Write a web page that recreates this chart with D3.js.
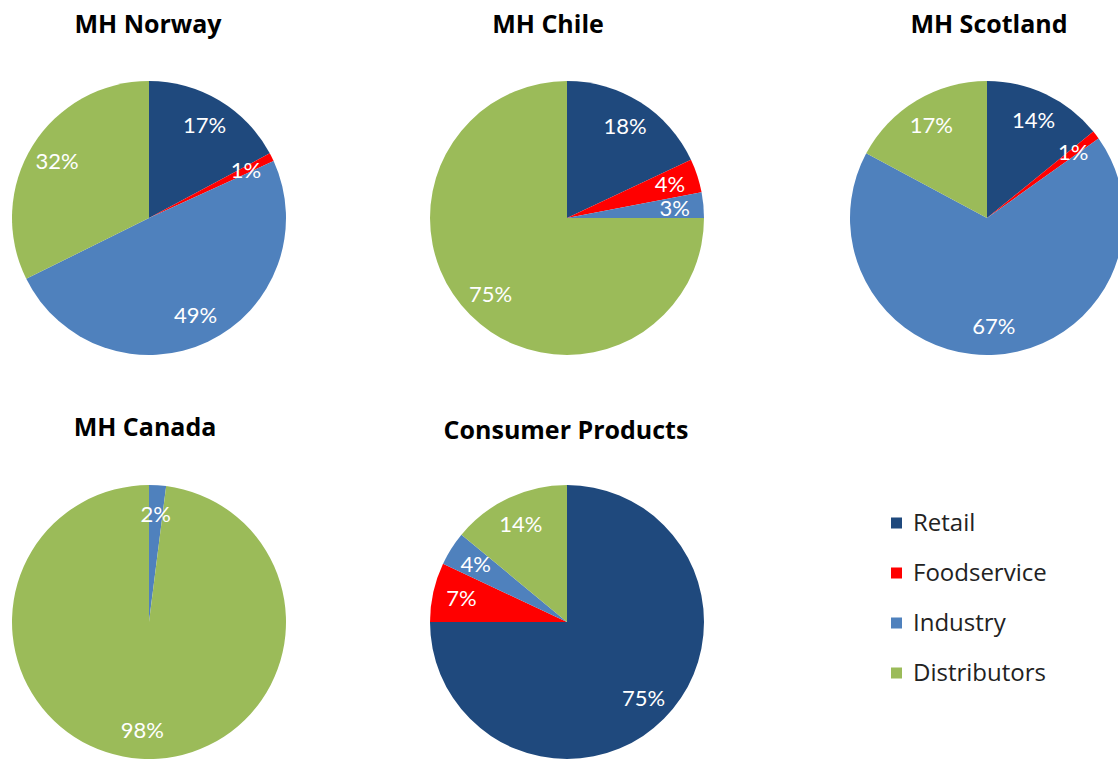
<!DOCTYPE html>
<html>
<head>
<meta charset="utf-8">
<script src="https://cdn.jsdelivr.net/npm/d3@7"></script>
<style>
    body { margin: 0; background: #fff; }
    svg { display: block; font-family: Lato, "Open Sans", sans-serif; }
</style>
</head>
<body>
<script>
// Sales channel split per business unit (percent)
var categories = ["Retail", "Foodservice", "Industry", "Distributors"];
var units = ["MH Norway", "MH Chile", "MH Scotland",
             "MH Canada", "Consumer Products"];
var norway   = [17, 1, 49, 32];
var chile    = [18, 4, 3, 75];
var scotland = [14, 1, 67, 17];
var canada   = [0, 0, 2, 98];
var consumer = [75, 7, 4, 14];
var series = [norway, chile, scotland, canada, consumer];

var width = 1118,
    height = 760,
    radius = 137;

// where each pie sits, and where its title sits
var layout = [
    {cx: 149, cy: 218, tx: 148, ty: 33},
    {cx: 567, cy: 218, tx: 548, ty: 33},
    {cx: 987, cy: 218, tx: 989, ty: 33},
    {cx: 149, cy: 622, tx: 145, ty: 436},
    {cx: 567, cy: 622, tx: 566, ty: 439}
];

var color = d3.scaleOrdinal()
    .domain(categories)
    .range(["#1f497d", "#ff0000", "#4f81bd", "#9bbb59"]);

var svg = d3.select("body").append("svg")
    .attr("width", width)
    .attr("height", height);

var pie = d3.pie().sort(null).value(function(d) { return d.value; });
var arc = d3.arc().innerRadius(0).outerRadius(radius);
var labelArc = d3.arc().innerRadius(radius * 0.79).outerRadius(radius * 0.79);

units.forEach(function(name, i) {
    var pos = layout[i];
    var data = categories.map(function(c, j) {
        return {key: c, value: series[i][j]};
    });

    svg.append("text")
        .attr("x", pos.tx)
        .attr("y", pos.ty)
        .attr("text-anchor", "middle")
        .attr("font-family", "'Open Sans', sans-serif")
        .attr("font-size", "25px")
        .attr("font-weight", "bold")
        .attr("fill", "#000")
        .text(name);

    var g = svg.append("g")
        .attr("transform", "translate(" + pos.cx + "," + pos.cy + ")");

    var slices = pie(data).filter(function(d) { return d.data.value > 0; });

    g.selectAll("path")
        .data(slices)
        .enter()
        .append("path")
        .attr("d", arc)
        .attr("fill", function(d) { return color(d.data.key); });

    g.selectAll("text")
        .data(slices)
        .enter()
        .append("text")
        .attr("transform", function(d) {
            return "translate(" + labelArc.centroid(d) + ")";
        })
        .attr("dy", "0.35em")
        .attr("text-anchor", "middle")
        .attr("font-size", "22px")
        .attr("fill", "#fff")
        .text(function(d) { return d.data.value + "%"; });
});

// legend
var legend = svg.append("g")
    .attr("transform", "translate(891,523)");

var rows = legend.selectAll("g")
    .data(categories)
    .enter()
    .append("g")
    .attr("transform", function(d, i) {
        return "translate(0," + i * 50 + ")";
    });

rows.append("rect")
    .attr("x", 0)
    .attr("y", -5.5)
    .attr("width", 11)
    .attr("height", 11)
    .attr("fill", function(d) { return color(d); });

rows.append("text")
    .attr("x", 22)
    .attr("dy", "0.35em")
    .attr("font-family", "'Open Sans', sans-serif")
    .attr("font-size", "24px")
    .attr("fill", "#222")
    .text(function(d) { return d; });
</script>
</body>
</html>
